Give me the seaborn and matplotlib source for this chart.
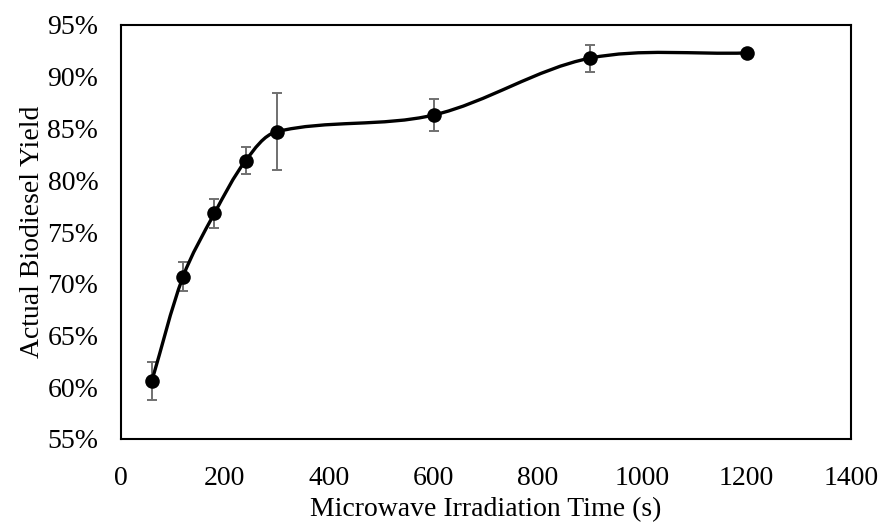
import numpy as np
import pandas as pd
import matplotlib
matplotlib.use("Agg")
import matplotlib.pyplot as plt
import seaborn as sns
from matplotlib.path import Path
from matplotlib.patches import PathPatch
from matplotlib.ticker import FuncFormatter

time_s = [60, 120, 180, 240, 300, 600, 900, 1200]
yield_pct = [60.6, 70.7, 76.8, 81.9, 84.7, 86.3, 91.8, 92.3]
yield_err = [1.85, 1.4, 1.4, 1.3, 3.7, 1.55, 1.3, 0.0]

x_ticks = [0, 200, 400, 600, 800, 1000, 1200, 1400]
y_ticks = [55, 60, 65, 70, 75, 80, 85, 90, 95]

df = pd.DataFrame({"time": time_s, "yield": yield_pct, "err": yield_err})

sns.set_theme(style="white")
plt.rcParams["font.family"] = ["Liberation Serif", "DejaVu Serif"]

fig = plt.figure(figsize=(8.81, 5.25), dpi=100)
ax = fig.add_axes([120.5 / 881, 1 - 439 / 525, (851 - 120.5) / 881, (439 - 25) / 525])
ax.set_xlim(0, 1400)
ax.set_ylim(55, 95)

# Excel-like smoothed line: cubic Bezier segments, tangent lengths weighted by
# segment lengths measured in display space
xs = df["time"].to_numpy(float)
ys = df["yield"].to_numpy(float)
disp = ax.transData.transform(np.column_stack([xs, ys]))
n = len(xs)
verts = [(xs[0], ys[0])]
codes = [Path.MOVETO]


def ctrl(i_prev, i, i_next, forward):
    p0, p1, p2 = disp[i_prev], disp[i], disp[i_next]
    d_in = np.linalg.norm(p1 - p0)
    d_out = np.linalg.norm(p2 - p1)
    tot = d_in + d_out
    if tot == 0:
        return p1
    w = (d_out if forward else d_in) / tot / 3.0
    return p1 + (p2 - p0) * w * (1 if forward else -1)


inv = ax.transData.inverted()
for i in range(n - 1):
    c1 = ctrl(max(i - 1, 0), i, i + 1, True)
    c2 = ctrl(i, i + 1, min(i + 2, n - 1), False)
    c1d, c2d = inv.transform(c1), inv.transform(c2)
    verts += [tuple(c1d), tuple(c2d), (xs[i + 1], ys[i + 1])]
    codes += [Path.CURVE4] * 3
ax.add_patch(PathPatch(Path(verts, codes), facecolor="none", edgecolor="black",
                       lw=2.4, zorder=3, capstyle="round", joinstyle="round"))

mask = df["err"] > 0
ax.errorbar(df.loc[mask, "time"], df.loc[mask, "yield"], yerr=df.loc[mask, "err"],
            fmt="none", ecolor="#707070", elinewidth=1.4, capsize=3.3, capthick=1.4, zorder=2)
sns.scatterplot(data=df, x="time", y="yield", ax=ax, color="black", s=110,
                edgecolor="black", linewidth=0, zorder=4)

ax.set_xticks(x_ticks)
ax.set_yticks(y_ticks)
ax.yaxis.set_major_formatter(FuncFormatter(lambda v, p: f"{v:.0f}%"))
ax.tick_params(axis="both", length=0, labelsize=20, colors="black")
ax.tick_params(axis="x", pad=19.5)
ax.tick_params(axis="y", pad=16)
for s in ax.spines.values():
    s.set_color("black")
    s.set_linewidth(1.5)
ax.set_xlabel("Microwave Irradiation Time (s)", fontsize=20, color="black", labelpad=4)
ax.set_ylabel("Actual Biodiesel Yield", fontsize=20, color="black", labelpad=1.5)
ax.grid(False)

fig.savefig("out.png", dpi=100)
